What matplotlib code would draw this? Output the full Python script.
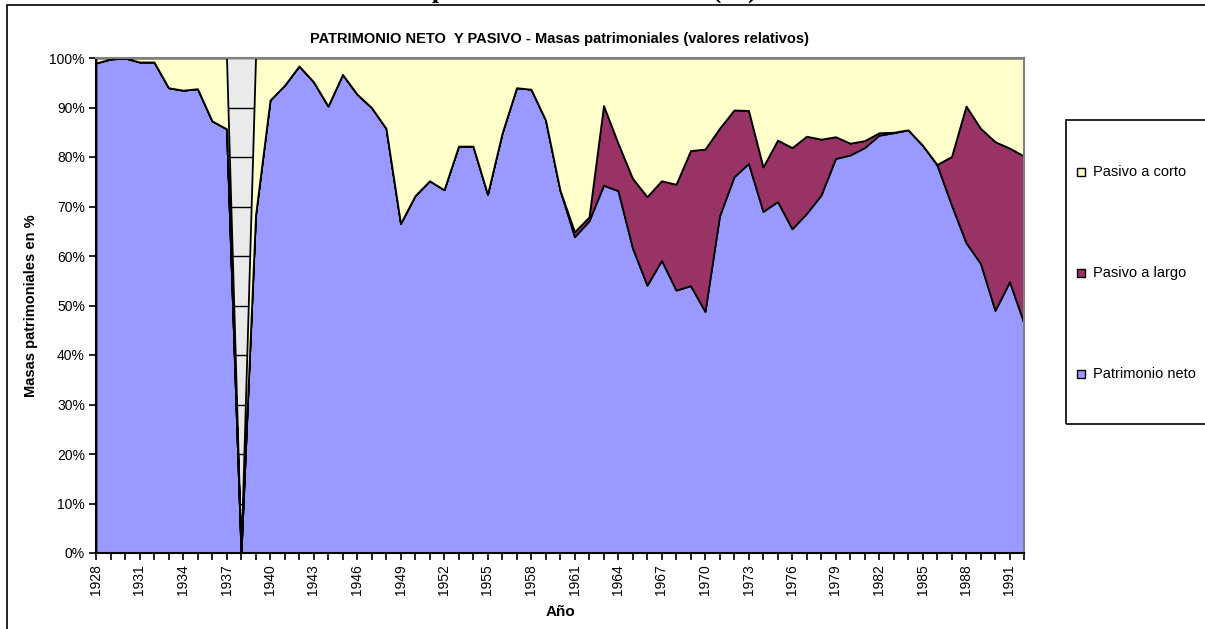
import numpy as np
import matplotlib
matplotlib.use('Agg')
import matplotlib.pyplot as plt
from matplotlib.patches import Rectangle

plt.rcParams['font.family'] = ['Liberation Sans', 'DejaVu Sans']

years = np.arange(1928, 1993)

# Patrimonio neto (%)
neto = [99.0, 99.8, 100.0, 99.2, 99.2, 94.0, 93.5, 93.8, 87.3, 85.7,
        0.0, 68.3, 91.5, 94.5, 98.4, 95.2, 90.3, 96.7, 92.7, 90.0,
        85.8, 66.6, 72.2, 75.2, 73.4, 82.2, 82.2, 72.5, 84.8, 94.0,
        93.7, 87.5, 73.3, 63.9, 67.1, 74.3, 73.2, 61.6, 54.1, 59.1,
        53.1, 54.0, 48.8, 68.1, 76.0, 78.7, 69.0, 71.0, 65.5, 68.6,
        72.3, 79.7, 80.4, 81.9, 84.4, 84.9, 85.5, 82.4, 78.4, 70.3,
        62.7, 58.5, 49.0, 54.8, 46.4]

# Pasivo a largo (%)
largo = [0.0, 0.0, 0.0, 0.0, 0.0, 0.0, 0.0, 0.0, 0.0, 0.0,
         0.0, 0.0, 0.0, 0.0, 0.0, 0.0, 0.0, 0.0, 0.0, 0.0,
         0.0, 0.0, 0.0, 0.0, 0.0, 0.0, 0.0, 0.0, 0.0, 0.0,
         0.0, 0.0, 0.0, 1.0, 0.8, 16.1, 9.6, 14.1, 17.9, 16.1,
         21.4, 27.3, 32.8, 17.7, 13.5, 10.7, 9.0, 12.4, 16.4, 15.6,
         11.3, 4.4, 2.4, 1.4, 0.5, 0.1, 0.0, 0.0, 0.1, 9.8,
         27.6, 27.3, 34.1, 27.0, 33.8]

# Pasivo a corto (%)
corto = [1.0, 0.2, 0.0, 0.8, 0.8, 6.0, 6.5, 6.2, 12.7, 14.3,
         0.0, 31.7, 8.5, 5.5, 1.6, 4.8, 9.7, 3.3, 7.3, 10.0,
         14.2, 33.4, 27.8, 24.8, 26.6, 17.8, 17.8, 27.5, 15.2, 6.0,
         6.3, 12.5, 26.7, 35.1, 32.1, 9.6, 17.2, 24.3, 28.0, 24.8,
         25.5, 18.7, 18.4, 14.2, 10.5, 10.6, 22.0, 16.6, 18.1, 15.8,
         16.4, 15.9, 17.2, 16.7, 15.1, 15.0, 14.5, 17.6, 21.5, 19.9,
         9.7, 14.2, 16.9, 18.2, 19.8]

labels = ['Patrimonio neto', 'Pasivo a largo', 'Pasivo a corto']
colors = ['#9999FF', '#993366', '#FFFFCC']

W, H = 1205, 629
fig = plt.figure(figsize=(W / 100, H / 100), dpi=100)
ax = fig.add_axes([96 / W, 1 - 553 / H, (1024 - 96) / W, (553 - 58) / H])

ax.set_facecolor('#EAEAEA')
ax.yaxis.grid(True, color='black', lw=1)
ax.set_axisbelow(True)

ax.stackplot(years, neto, largo, corto, colors=colors, edgecolor='black', lw=1.3)

ax.set_xlim(years[0], years[-1])
ax.set_ylim(0, 100)
ax.set_yticks(np.arange(0, 101, 10))
ax.set_yticklabels(['%d%%' % v for v in range(0, 101, 10)], fontsize=10)
ax.set_xticks(years)
ax.set_xticklabels([str(y) if (y - 1928) % 3 == 0 else '' for y in years],
                   rotation=90, fontsize=10)
ax.tick_params(length=5, width=1.2, direction='out', pad=3)

for s in ['left', 'bottom']:
    ax.spines[s].set_color('black')
    ax.spines[s].set_linewidth(1.5)
for s in ['top', 'right']:
    ax.spines[s].set_color('#808080')
    ax.spines[s].set_linewidth(1.5)

ax.set_xlabel('Año', fontsize=11, fontweight='bold', labelpad=7)
ax.set_ylabel('Masas patrimoniales en %', fontsize=10.5, fontweight='bold', labelpad=8)
ax.set_title('PATRIMONIO NETO  Y PASIVO - Masas patrimoniales (valores relativos)',
             fontsize=10.5, fontweight='bold', pad=11)

# outer chart frame
fig.add_artist(Rectangle((7 / W, -0.1), 1.2, 1 - 5 / H + 0.1, transform=fig.transFigure,
                         fill=False, ec='black', lw=1.2, clip_on=False))

# legend box (drawn by hand, runs off the right edge)
fig.add_artist(Rectangle((1066 / W, 1 - 424 / H), 0.2, (424 - 120) / H,
                         transform=fig.transFigure, fill=False, ec='black', lw=1.2,
                         clip_on=False))
leg_y = [374, 273, 172]
for lab, col, yy in zip(labels, colors, leg_y):
    fig.add_artist(Rectangle(((1081 - 4) / W, 1 - (yy + 4) / H), 8 / W, 8 / H,
                             transform=fig.transFigure, fc=col, ec='black', lw=1))
    fig.text(1093 / W, 1 - yy / H, lab, fontsize=10.5, va='center', ha='left')

# caption cut off at top of the page
fig.text(757 / W, 1 + 2.5 / H, 'Gráfico 2. Evolución de las masas patrimoniales del estado (%)',
         fontsize=19, fontweight='bold', family=['Liberation Serif', 'DejaVu Serif'],
         ha='right', va='baseline')

fig.savefig('out.png', dpi=100)
